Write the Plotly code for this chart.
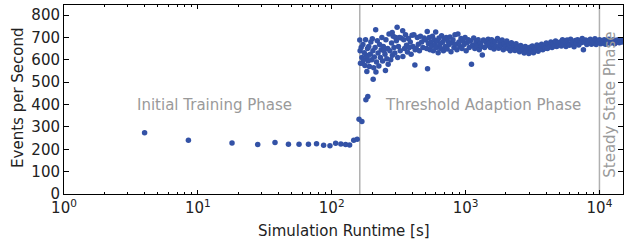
import plotly.graph_objects as go

# ---- data ----
init_t = [4, 8.5, 18, 28, 37.7, 47.5, 57, 67, 77, 87, 97, 107, 117, 127, 136, 146, 155,
          160, 168, 180, 186, 204]
init_v = [274, 240, 228, 221, 230, 222, 222, 222, 225, 218, 216, 227, 224, 221, 219, 240, 245,
          334, 324, 421, 436, 513]

segA_t = [162, 163, 164, 166, 168, 170, 171, 173, 175, 177, 179, 181, 183, 184, 185, 187, 189,
          191, 194, 196, 199, 201, 203, 206, 208, 211, 213, 214, 216, 219, 222, 225, 228, 231,
          234, 237, 240, 243, 246, 250, 252, 254, 258, 262, 264, 268, 272, 276, 280, 283, 284,
          288, 292, 296, 300, 304, 308, 311, 315, 320, 325, 330, 339, 340, 345, 350, 356, 362,
          368, 374, 380, 386, 392, 398, 405, 411, 418, 420, 428, 436, 444, 452, 460, 470, 480, 490]
segA_v = [689, 640, 585, 655, 610, 585, 668, 600, 632, 575, 690, 620, 548, 612, 650, 595, 660,
          570, 625, 680, 600, 694, 640, 565, 612, 655, 734, 545, 590, 685, 630, 572, 668, 610,
          645, 700, 595, 660, 640, 625, 552, 690, 605, 650, 580, 715, 640, 600, 675, 722, 620,
          705, 655, 630, 700, 685, 746, 610, 660, 700, 640, 698, 730, 615, 690, 650, 712, 665,
          635, 695, 655, 680, 625, 710, 660, 712, 577, 645, 650, 700, 670, 640, 705, 680, 655, 698]

segB_t = [505, 512, 517, 520, 528, 535, 542, 550, 558, 566, 574, 582, 590, 598, 606, 615, 624,
          633, 642, 652, 662, 672, 683, 694, 705, 716, 728, 740, 752, 765, 778, 791, 805, 819,
          833, 848, 862, 877, 892, 908, 924, 940, 957, 974, 991, 1010, 1028, 1047, 1066, 1086,
          1107, 1128, 1150, 1172, 1195, 1218, 1242, 1266, 1291, 1317, 1334, 1360, 1388, 1416,
          1445, 1475]
segB_v = [688, 650, 727, 560, 672, 700, 645, 680, 662, 705, 640, 690, 668, 724, 655, 685, 632,
          698, 670, 650, 708, 678, 640, 692, 660, 700, 648, 682, 668, 702, 636, 676, 690, 655,
          712, 670, 645, 715, 680, 660, 695, 650, 685, 668, 700, 640, 676, 690, 655, 684,
          580, 665, 698, 650, 680, 662, 690, 645, 675, 660, 622, 688, 655, 680, 665, 692]

segC_t = [1505, 1535, 1566, 1598, 1630, 1663, 1697, 1731, 1766, 1802, 1838, 1875, 1913, 1952,
          1991, 2031, 2072, 2114, 2157, 2200, 2245, 2290, 2336, 2383, 2431, 2480, 2530, 2581,
          2633, 2686, 2740, 2795, 2852, 2909, 2968, 3028, 3089, 3151, 3215, 3280, 3346, 3413,
          3482, 3552, 3624, 3697, 3772, 3848, 3926, 4005, 4086, 4168, 4252, 4338, 4426, 4515,
          4606, 4699, 4794, 4890, 4989]
segC_v = [675, 655, 690, 668, 648, 682, 660, 695, 652, 676, 664, 688, 645, 672, 658, 684, 650,
          668, 640, 676, 655, 665, 642, 672, 650, 660, 636, 664, 645, 655, 630, 660, 640, 652,
          628, 656, 640, 662, 632, 650, 644, 666, 638, 655, 648, 670, 645, 660, 652, 675, 650,
          668, 658, 680, 655, 672, 662, 684, 660, 676, 668]

segD_t = [5090, 5192, 5297, 5404, 5512, 5624, 5737, 5852, 5970, 6090, 6213, 6338, 6466, 6596,
          6729, 6864, 7003, 7144, 7288, 7435, 7590, 7737, 7893, 8052, 8214, 8380, 8548, 8721,
          8896, 9075, 9258, 9445, 9635, 9829, 10027, 10229, 10435, 10646, 10860, 11079, 11302,
          11530, 11762, 11999, 12241, 12487, 12739, 12995, 13257, 13524, 13796, 14074, 14357,
          14646, 14940]
segD_v = [680, 662, 690, 670, 682, 660, 688, 672, 665, 692, 668, 680, 658, 686, 674, 690, 666,
          684, 676, 695, 645, 678, 688, 668, 684, 674, 692, 670, 682, 676, 694, 668, 686, 678,
          690, 672, 684, 676, 690, 670, 686, 678, 692, 674, 684, 680, 690, 672, 686, 680, 690,
          676, 686, 680, 688]

phase_bounds = [162, 10000]
phase_labels = ["Initial Training Phase", "Threshold Adaption Phase", "Steady State Phase"]
x_ticks = [1, 10, 100, 1000, 10000]
x_ticktext = ["10<sup>0</sup>", "10<sup>1</sup>", "10<sup>2</sup>", "10<sup>3</sup>", "10<sup>4</sup>"]
y_ticks = [0, 100, 200, 300, 400, 500, 600, 700, 800]
x_title = "Simulation Runtime [s]"
y_title = "Events per Second"

t_all = init_t + segA_t + segB_t + segC_t + segD_t
v_all = init_v + segA_v + segB_v + segC_v + segD_v

FONT = "DejaVu Sans"
BLUE = "#3352a6"
GRAY = "#9a9a9a"
TXT = "#222222"

fig = go.Figure()
fig.add_trace(go.Scatter(x=t_all, y=v_all, mode="markers",
                         marker=dict(size=5.5, color=BLUE, line=dict(width=0)),
                         showlegend=False))

for b in phase_bounds:
    fig.add_shape(type="line", xref="x", yref="paper", x0=b, x1=b, y0=0, y1=1,
                  line=dict(color="#b0b0b0", width=1.5), layer="below")

fig.add_annotation(x=1.126, y=400, xref="x", yref="y", text=phase_labels[0], showarrow=False,
                   font=dict(family=FONT, size=15, color=GRAY))
fig.add_annotation(x=3.129, y=400, xref="x", yref="y", text=phase_labels[1], showarrow=False,
                   font=dict(family=FONT, size=15, color=GRAY))
fig.add_annotation(x=4.073, y=400, xref="x", yref="y", text=phase_labels[2], showarrow=False,
                   textangle=-90, font=dict(family=FONT, size=15, color=GRAY))

# axis titles as annotations for precise placement
fig.add_annotation(x=0.5, y=-0.196, xref="paper", yref="paper", text=x_title, showarrow=False,
                   xanchor="center", yanchor="middle", font=dict(family=FONT, size=15, color=TXT))
fig.add_annotation(x=-0.0824, y=0.508, xref="paper", yref="paper", text=y_title, showarrow=False,
                   textangle=-90, xanchor="center", yanchor="middle",
                   font=dict(family=FONT, size=15, color=TXT))

minor_vals = [m * 10 ** e for e in range(0, 5) for m in range(2, 10)]

fig.update_xaxes(type="log", range=[0, 4.176], tickmode="array", tickvals=x_ticks,
                 ticktext=x_ticktext, ticks="inside", ticklen=4, tickwidth=1, tickcolor="black",
                 showline=True, linecolor="black", linewidth=1, mirror="allticks",
                 showgrid=False, zeroline=False, automargin=False,
                 minor=dict(tickmode="array", tickvals=minor_vals, ticks="inside", ticklen=2,
                            tickwidth=1, tickcolor="black", showgrid=False),
                 tickfont=dict(family=FONT, size=15, color=TXT))
fig.update_yaxes(range=[0, 845], tickmode="array", tickvals=y_ticks, ticks="inside", ticklen=5,
                 tickwidth=1, tickcolor="black", showline=True, linecolor="black", linewidth=1,
                 mirror="allticks", showgrid=False, zeroline=False, automargin=False,
                 tickfont=dict(family=FONT, size=15, color=TXT))

fig.update_layout(width=628, height=241, margin=dict(l=64, r=5, t=5, b=47),
                  plot_bgcolor="white", paper_bgcolor="white",
                  font=dict(family=FONT, size=15))

fig.write_html("out.html", config={"displayModeBar": False},
               post_script="document.body.style.margin='0';")
